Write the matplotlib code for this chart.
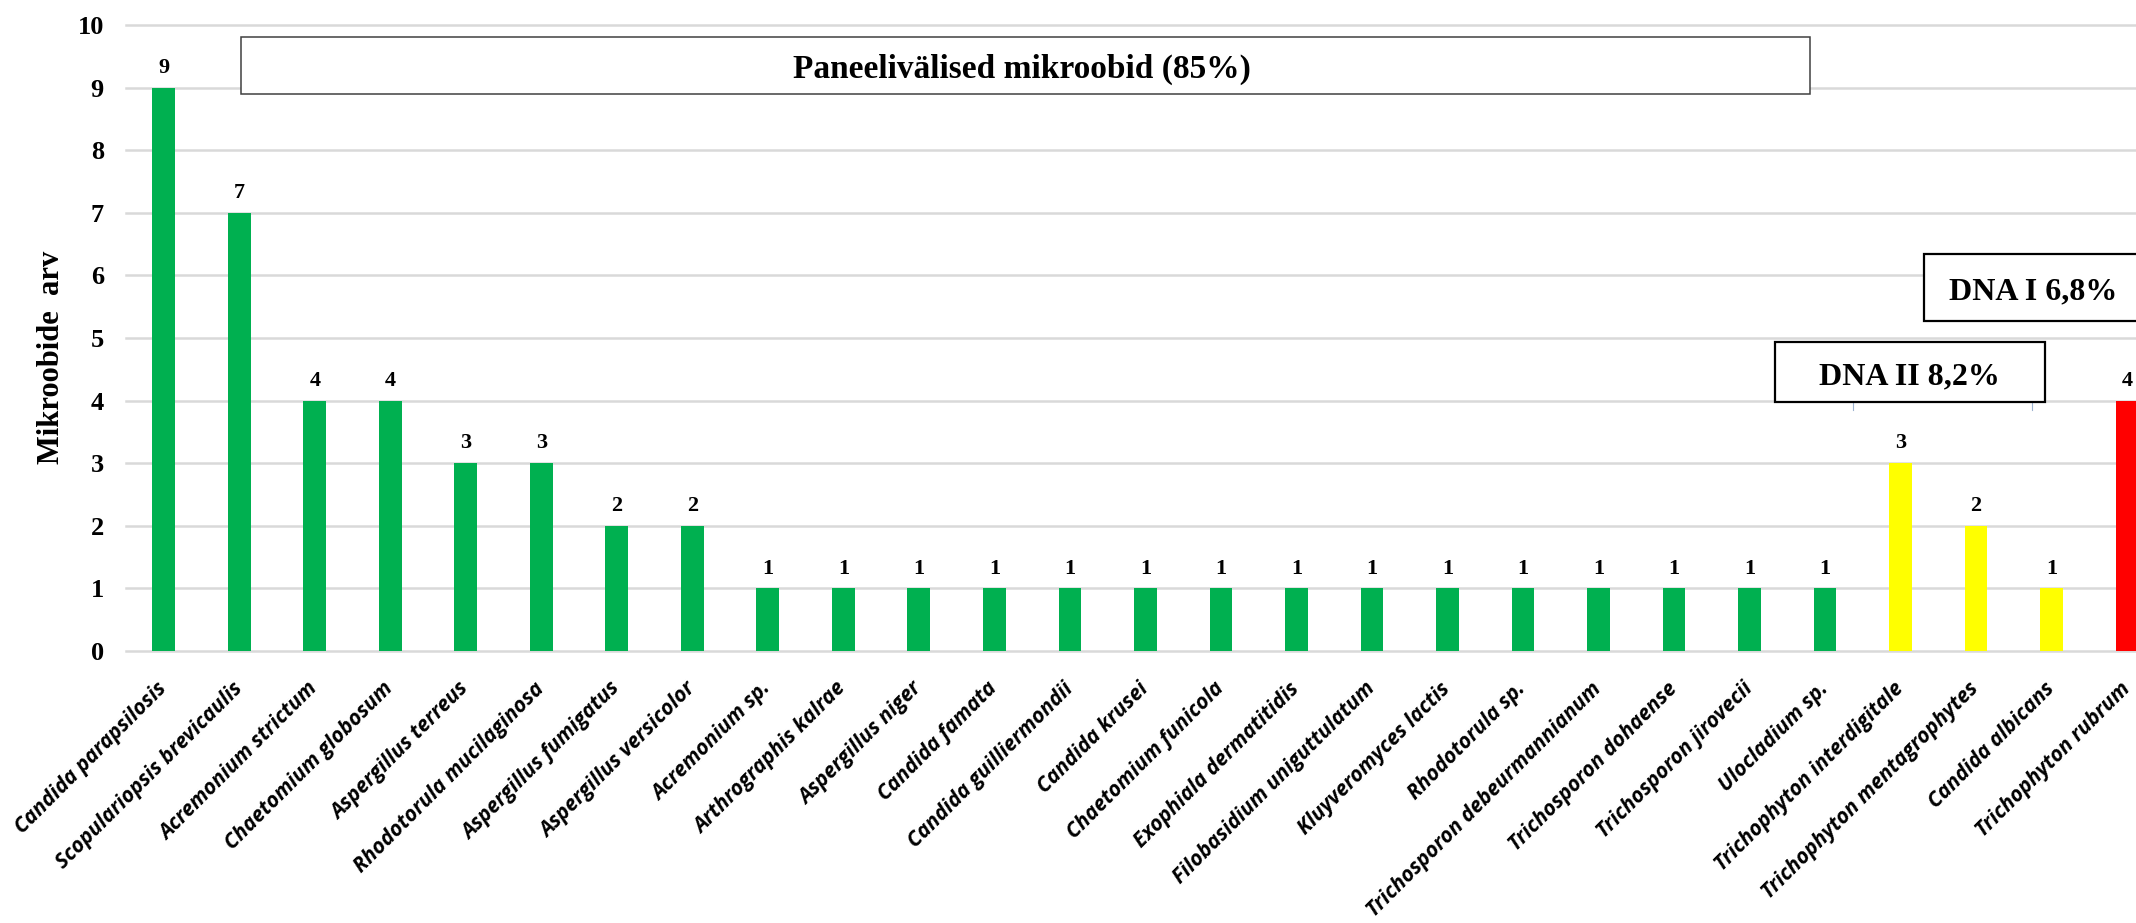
import matplotlib
matplotlib.use("Agg")
import matplotlib.pyplot as plt
from matplotlib.patches import Rectangle
from matplotlib.lines import Line2D

# Data
species = [
    "Candida parapsilosis", "Scopulariopsis brevicaulis", "Acremonium strictum",
    "Chaetomium globosum", "Aspergillus terreus", "Rhodotorula mucilaginosa",
    "Aspergillus fumigatus", "Aspergillus versicolor", "Acremonium sp.",
    "Arthrographis kalrae", "Aspergillus niger", "Candida famata",
    "Candida guilliermondii", "Candida krusei", "Chaetomium funicola",
    "Exophiala dermatitidis", "Filobasidium uniguttulatum", "Kluyveromyces lactis",
    "Rhodotorula sp.", "Trichosporon debeurmannianum", "Trichosporon dohaense",
    "Trichosporon jirovecii", "Ulocladium sp.", "Trichophyton interdigitale",
    "Trichophyton mentagrophytes", "Candida albicans", "Trichophyton rubrum",
]
counts = [9, 7, 4, 4, 3, 3, 2, 2, 1, 1, 1, 1, 1, 1, 1, 1, 1, 1, 1, 1, 1, 1, 1,
          3, 2, 1, 4]
groups = ["panel"] * 23 + ["dna2"] * 3 + ["dna1"]

group_colors = {"panel": "#00B050", "dna2": "#FFFF00", "dna1": "#FF0000"}
y_ticks = list(range(0, 11))
y_label = "Mikroobide  arv"
box_panel = "Paneelivälised mikroobid (85%)"
box_dna1 = "DNA I 6,8%"
box_dna2 = "DNA II 8,2%"

W, H = 2136, 923
fig = plt.figure(figsize=(W / 100, H / 100), dpi=100)

def fx(px):
    return px / W

def fy(py):
    return 1 - py / H

ax_left, ax_right_px = 126, 2136
ax_top, ax_bottom = 25, 651
ax = fig.add_axes([fx(ax_left), fy(ax_bottom), fx(ax_right_px - ax_left),
                   (ax_bottom - ax_top) / H])

serif = "Liberation Serif"
x = list(range(len(species)))
colors = [group_colors[g] for g in groups]
ax.bar(x, counts, width=0.3, color=colors, zorder=3)

for xi, v in zip(x, counts):
    ax.annotate(str(v), (xi, v), xytext=(0, 7), textcoords="offset points",
                ha="center", va="bottom", fontfamily=serif,
                fontweight="bold", fontsize=16, zorder=4)

ax.set_xlim(-0.5, 26.12)
ax.set_ylim(0, 10)
ax.set_yticks(y_ticks)
ax.set_yticklabels([str(t) for t in y_ticks], fontfamily=serif,
                   fontweight="bold", fontsize=19)
ax.tick_params(axis="y", length=0, pad=16)
for t in y_ticks:
    ax.axhline(t, color="#D9D9D9", lw=1.8, zorder=1, clip_on=False)

ax.set_xticks(x)
ax.set_xticklabels(species, rotation=45, ha="right", va="center",
                   rotation_mode="anchor", fontfamily="Open Sans",
                   fontstyle="italic", fontweight="bold", fontsize=15)
ax.tick_params(axis="x", length=0, pad=25)

for s in ax.spines.values():
    s.set_visible(False)

fig.text(fx(52), fy(357), y_label, rotation=90, ha="center", va="center",
         fontfamily=serif, fontweight="bold", fontsize=22)

def frame(x0, y0, x1, y1, lw, ec):
    fig.add_artist(Rectangle((fx(x0), fy(y1)), fx(x1 - x0), (y1 - y0) / H,
                             transform=fig.transFigure, fill=True,
                             facecolor="white", edgecolor=ec, lw=lw,
                             zorder=5))

frame(241, 37, 1810, 94, 1.1, "#404040")
fig.text(fx(1022), fy(78), box_panel, ha="center", va="baseline",
         fontfamily=serif, fontweight="bold", fontsize=24, zorder=6)

frame(1924, 254, 2150, 321, 1.6, "black")
fig.text(fx(2033), fy(299), box_dna1, ha="center", va="baseline",
         fontfamily=serif, fontweight="bold", fontsize=23, zorder=6)

frame(1775, 342, 2045, 402, 1.6, "black")
fig.text(fx(1909), fy(384), box_dna2, ha="center", va="baseline",
         fontfamily=serif, fontweight="bold", fontsize=23, zorder=6)

# small bracket ends under the DNA II frame
for bx in (1853, 2032):
    fig.add_artist(Line2D([fx(bx), fx(bx)], [fy(400), fy(410)],
                          transform=fig.transFigure, color="#9DB3D0",
                          lw=0.8, zorder=4))

fig.savefig("out.png", dpi=100, facecolor="white")
